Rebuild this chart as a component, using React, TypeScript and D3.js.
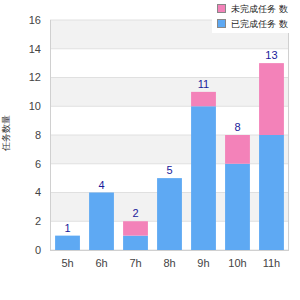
import React from 'react';
import * as d3 from 'd3';

// chart values
const hours = ['5h', '6h', '7h', '8h', '9h', '10h', '11h'];
const doneCounts = [1, 4, 1, 5, 10, 6, 8];
const failCounts = [0, 0, 1, 0, 1, 2, 5];
const yTicks = [0, 2, 4, 6, 8, 10, 12, 14, 16];
const legendLabels = ['未完成任务 数', '已完成任务 数'];
const yLabel = '任务数量';

const BLUE = '#5ea9f3';
const PINK = '#f382b9';

const App = () => {
  const margin = { top: 20, right: 11, bottom: 50, left: 50 };
  const width = 300, height = 300;
  const innerW = width - margin.left - margin.right;
  const innerH = height - margin.top - margin.bottom;

  const x = d3.scaleBand().domain(hours).range([0, innerW]).paddingInner(0.27).paddingOuter(0.15);
  const y = d3.scaleLinear().domain([0, 16]).range([innerH, 0]);

  const stackData = hours.map((h, i) => ({ hour: h, done: doneCounts[i], fail: failCounts[i] }));
  const series = d3.stack<any>().keys(['done', 'fail'])(stackData);
  const colors = [BLUE, PINK];

  const font = '"Liberation Sans", Arial, sans-serif';

  return (
    <svg width={width} height={height} style={{ position: 'absolute', left: 0, top: 0, fontFamily: font }}>
      <g transform={`translate(${margin.left},${margin.top})`}>
        {/* alternating bands */}
        {yTicks.slice(0, -1).map((t, i) =>
          i % 2 === 1 ? (
            <rect key={'b' + t} x={0} y={y(t + 2)} width={innerW} height={y(t) - y(t + 2)} fill="#f2f2f2" />
          ) : null
        )}
        {yTicks.map(t => (
          <line key={'g' + t} x1={0} x2={innerW} y1={y(t)} y2={y(t)} stroke="#e0e0e0" />
        ))}
        {series.map((s, si) =>
          s.map((d, i) => (
            <rect
              key={si + '-' + i}
              x={x(hours[i])}
              y={y(d[1])}
              width={x.bandwidth()}
              height={y(d[0]) - y(d[1])}
              fill={colors[si]}
            />
          ))
        )}
        {/* axis lines */}
        <line x1={0.5} x2={0.5} y1={0} y2={innerH} stroke="#d0d0d0" />
        <line x1={innerW - 0.5} x2={innerW - 0.5} y1={0} y2={innerH} stroke="#d0d0d0" />
        <line x1={0} x2={innerW} y1={innerH + 0.5} y2={innerH + 0.5} stroke="#d0d0d0" />
        {yTicks.map(t => (
          <text key={'yt' + t} x={-9} y={y(t)} dy="0.35em" textAnchor="end" fontSize={11} fill="#444">
            {t}
          </text>
        ))}
        {hours.map(h => (
          <text key={'xt' + h} x={(x(h) as number) + x.bandwidth() / 2} y={innerH + 17} textAnchor="middle" fontSize={11} fill="#444">
            {h}
          </text>
        ))}
        {stackData.map(d => (
          <text
            key={'l' + d.hour}
            x={(x(d.hour) as number) + x.bandwidth() / 2}
            y={y(d.done + d.fail) - 4}
            textAnchor="middle"
            fontSize={11}
            fill="#1a1a9a"
          >
            {d.done + d.fail}
          </text>
        ))}
      </g>
      <text transform={`translate(9,${margin.top + 113}) rotate(-90)`} textAnchor="middle" fontSize={9} fill="#333">
        {yLabel}
      </text>
      {/* legend */}
      <rect x={212} y={0} width={78} height={33} fill="#fff" />
      {legendLabels.map((lbl, i) => (
        <g key={lbl} transform={`translate(217,${4 + i * 15})`}>
          <rect x={0.5} y={0.5} width={8} height={8} fill={i === 0 ? PINK : BLUE} stroke="#888" />
          <text x={14} y={4.5} dy="0.35em" fontSize={9} fill="#222">{lbl}</text>
        </g>
      ))}
    </svg>
  );
};

export default App;
